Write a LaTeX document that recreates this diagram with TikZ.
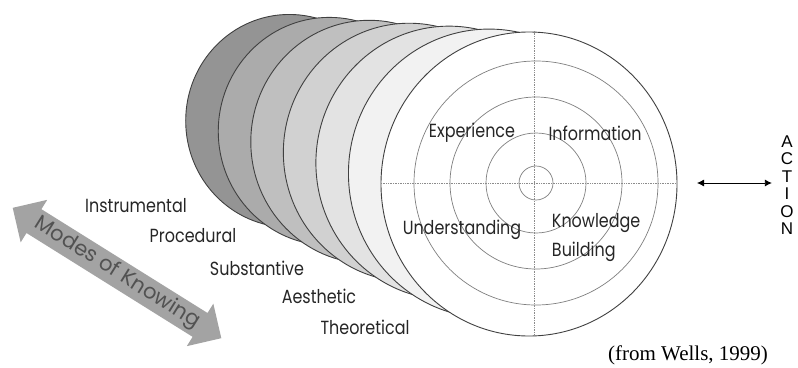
\documentclass[tikz,border=0pt]{standalone}
\usepackage{fontspec}
\setmainfont{Liberation Serif}
\setsansfont{Poppins}
\newfontfamily\actionfont{Liberation Sans}
\usetikzlibrary{calc,arrows.meta,shapes.arrows}
\begin{document}
\begin{tikzpicture}[x=1pt,y=-1pt,
  mode/.style={font=\sffamily\fontsize{19}{29}\selectfont,xscale=0.84,text=black!85},
  ring/.style={draw=black!50,line width=0.7pt},
  cross/.style={draw=black!45,densely dotted,line width=0.7pt}]
  \useasboundingbox (0,0) rectangle (798,367);
  \coordinate (vp) at (-270,-26.5);
  \coordinate (face) at (529,184);
  \foreach \s/\g in {0.70/42, 0.75/33, 0.80/25, 0.85/18, 0.90/11, 0.95/5, 1.00/0} {
    \filldraw[fill=black!\g,draw=black!75,line width=0.9pt]
      ($(vp)!\s!(face)$) ellipse [x radius=148*\s, y radius=152*\s];
  }
  \foreach \r in {17,50,86,122}
    \draw[ring] (536,183) circle (\r);
  \draw[cross] (381,183) -- (676,183);
  \draw[cross] (534,31) -- (534,336);
  \node[mode] (exp) at (472,133) {Experience};
  \node[mode] (inf) at (595,133) {Information};
  \node[mode] (und) at (462,230) {Understanding};
  \node[mode,align=left,anchor=west] (kb) at (549,238) {Knowledge\\Building};
  \node[mode] (ins) at (136,206) {Instrumental};
  \node[mode] (pro) at (193,236) {Procedural};
  \node[mode] (sub) at (257,268) {Substantive};
  \node[mode] (aes) at (319,296) {Aesthetic};
  \node[mode] (the) at (365,327) {Theoretical};
  \node[double arrow,fill=black!36,rotate=-32,minimum height=246,
    double arrow head extend=11,inner ysep=3,text=black!68,
    font=\sffamily\fontsize{21}{24}\selectfont] (mok) at (117,273) {Modes of Knowing};
  \node[font=\actionfont\fontsize{17}{17.5}\selectfont,align=center] (act) at (787,185)
    {A\\C\\T\\I\\O\\N};
  \coordinate (lend) at (697,183);
  \draw[{Latex[length=7pt,width=7pt]}-{Latex[length=7pt,width=7pt]},line width=0.8pt,
    shorten >=5pt] (lend) -- (lend -| act.west);
  \node[font=\fontsize{21}{24}\selectfont] (src) at (688,355) {(from Wells, 1999)};
\end{tikzpicture}
\end{document}
